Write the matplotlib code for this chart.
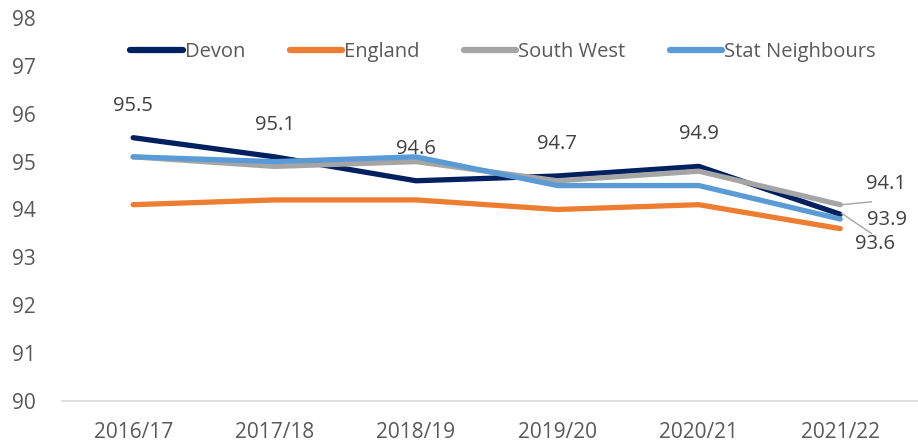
import matplotlib.pyplot as plt

plt.rcParams['font.family'] = ['Open Sans', 'DejaVu Sans']

years = ["2016/17", "2017/18", "2018/19", "2019/20", "2020/21", "2021/22"]
devon = [95.5, 95.1, 94.6, 94.7, 94.9, 93.9]
england = [94.1, 94.2, 94.2, 94.0, 94.1, 93.6]
south_west = [95.1, 94.9, 95.0, 94.6, 94.8, 94.1]
stat_neighbours = [95.1, 95.0, 95.1, 94.5, 94.5, 93.8]

series = [
    ("Devon", devon, "#002060"),
    ("England", england, "#ED7D31"),
    ("South West", south_west, "#A5A5A5"),
    ("Stat Neighbours", stat_neighbours, "#5B9BD5"),
]

text_color = "#595959"
label_color = "#404040"

fig = plt.figure(figsize=(9.18, 4.41), dpi=100)
ax = fig.add_axes([0.068, 0.091, 0.932, 0.868])

x = list(range(len(years)))
for name, values, color in series:
    ax.plot(x, values, color=color, linewidth=3.8, label=name, solid_capstyle="round")

# Devon labels above each point, except the last year
for i, v in enumerate(devon[:-1]):
    ax.annotate(f"{v:.1f}", (i, v), xytext=(0, 23), textcoords="offset points",
                ha="center", va="center", fontsize=14.5, color=label_color)

# last-year labels with leader lines
last = len(years) - 1
ax.annotate(f"{south_west[-1]:.1f}", (last, south_west[-1]), xytext=(33, 15),
            textcoords="offset points", ha="center", va="center", fontsize=14.5,
            color=label_color)
ax.plot([last + 0.01, last + 0.22], [south_west[-1], south_west[-1] + 0.06],
        color="#A5A5A5", linewidth=1)
ax.annotate(f"{devon[-1]:.1f}", (last, devon[-1]), xytext=(34, -4),
            textcoords="offset points", ha="center", va="center", fontsize=14.5,
            color=label_color)
ax.annotate(f"{england[-1]:.1f}", (last, england[-1]), xytext=(25, -11),
            textcoords="offset points", ha="center", va="center", fontsize=14.5,
            color=label_color)
ax.plot([last + 0.01, last + 0.22], [devon[-1] + 0.02, devon[-1] - 0.4],
        color="#A5A5A5", linewidth=1)

ax.set_xlim(-0.5, len(years) - 0.45)
ax.set_ylim(90, 98)
ax.set_yticks(range(90, 99))
ax.set_xticks(x)
ax.set_xticklabels(years)
ax.tick_params(axis="both", length=0, labelsize=15, colors=text_color)
ax.tick_params(axis="x", pad=15)
ax.tick_params(axis="y", pad=19)

for side in ("top", "right", "left"):
    ax.spines[side].set_visible(False)
ax.spines["bottom"].set_color("#D9D9D9")
ax.spines["bottom"].set_linewidth(1.2)

leg = ax.legend(loc="upper center", bbox_to_anchor=(0.515, 0.985), ncol=4, frameon=False,
                fontsize=14.5, handlelength=2.6, handletextpad=0.1, columnspacing=2.2,
                labelcolor=text_color)
for line in leg.get_lines():
    line.set_linewidth(4.5)

fig.savefig("out.png", dpi=100)
